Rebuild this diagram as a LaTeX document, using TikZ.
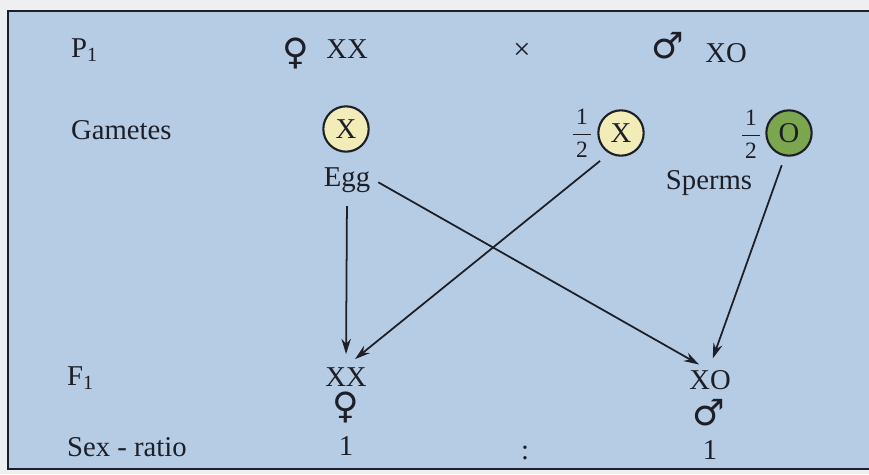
\documentclass[tikz,border=0pt]{standalone}
\usepackage{fontspec}
\setmainfont{Liberation Serif}
\newfontfamily\symfont{DejaVu Sans}
\usetikzlibrary{arrows.meta}

\definecolor{boxblue}{RGB}{182,204,228}
\definecolor{pagegrey}{RGB}{238,239,241}
\definecolor{inkdark}{RGB}{28,30,40}
\definecolor{eggyellow}{RGB}{242,236,184}
\definecolor{spermgreen}{RGB}{124,166,78}

\newcommand{\halfof}{$\displaystyle\frac{\mbox{\hspace{3pt}1\hspace{3pt}}}{\mbox{2}}$}

\begin{document}
\begin{tikzpicture}[
  x=0.03cm, y=-0.03cm,
  every node/.style={text=inkdark, font=\fontsize{24.5}{28}\selectfont},
  rowlabel/.style={anchor=west},
  gamete/.style={
    circle,
    draw=inkdark,
    line width=1.8pt,
    minimum size=1.36cm,
    inner sep=0pt
  },
  sym/.style={font=\symfont\fontsize{31}{31}\selectfont, inner sep=0pt},
  halfmark/.style={font=\fontsize{20}{20}\selectfont, inner sep=0pt},
  arrow/.style={-{Stealth[length=13pt,width=8pt]}, line width=1.5pt, draw=inkdark}
]
\useasboundingbox (0,0) rectangle (869,474);
\fill[pagegrey] (0,0) rectangle (869,474);
\draw[inkdark, line width=1.6pt, fill=boxblue] (8,11) rectangle (885,469);

% row labels
\node[rowlabel] (p1) at (67,50) {P\textsubscript{1}};
\node[rowlabel] (gam) at (67,130) {Gametes};
\node[rowlabel] (f1) at (63,378) {F\textsubscript{1}};
\node[rowlabel] (ratio) at (63,447) {Sex - ratio};

% parents
\node[sym] (female) at (296,53) {♀};
\node (pxx) at (347,49) {XX};
\node[font=\fontsize{26}{26}\selectfont] (cross) at (522,51) {×};
\node[sym] (male) at (668,46) {♂};
\node (pxo) at (726,53) {XO};

% gametes
\node[gamete, fill=eggyellow] (egg) at (346,129) {X};
\node (eggtxt) at (347,180) {Egg};
\node[halfmark] (halfx) at (582,133) {\halfof};
\node[gamete, fill=eggyellow] (spermx) at (621,133) {X};
\node[halfmark] (halfo) at (751,134) {\halfof};
\node[gamete, fill=spermgreen] (spermo) at (789,133) {O};
\node (spermtxt) at (709,183) {Sperms};

% offspring
\node (f1xx) at (346,377) {XX};
\node[sym] (f1female) at (346,407) {♀};
\node (f1xo) at (710,380) {XO};
\node[sym] (f1male) at (709,413) {♂};
\node (one1) at (346,446) {1};
\node (colon) at (525,453) {:};
\node (one2) at (710,450) {1};

\draw[arrow, shorten <=8pt, shorten >=8pt] (eggtxt.south) -- (f1xx.north);
\draw[arrow, shorten <=4pt, shorten >=3pt] (eggtxt.east) -- (f1xo.120);
\draw[arrow, shorten <=10pt, shorten >=6pt] (spermx.240) -- (f1xx.75);
\draw[arrow, shorten <=8pt, shorten >=7pt] (spermo.260) -- (f1xo.north);
\end{tikzpicture}
\end{document}
